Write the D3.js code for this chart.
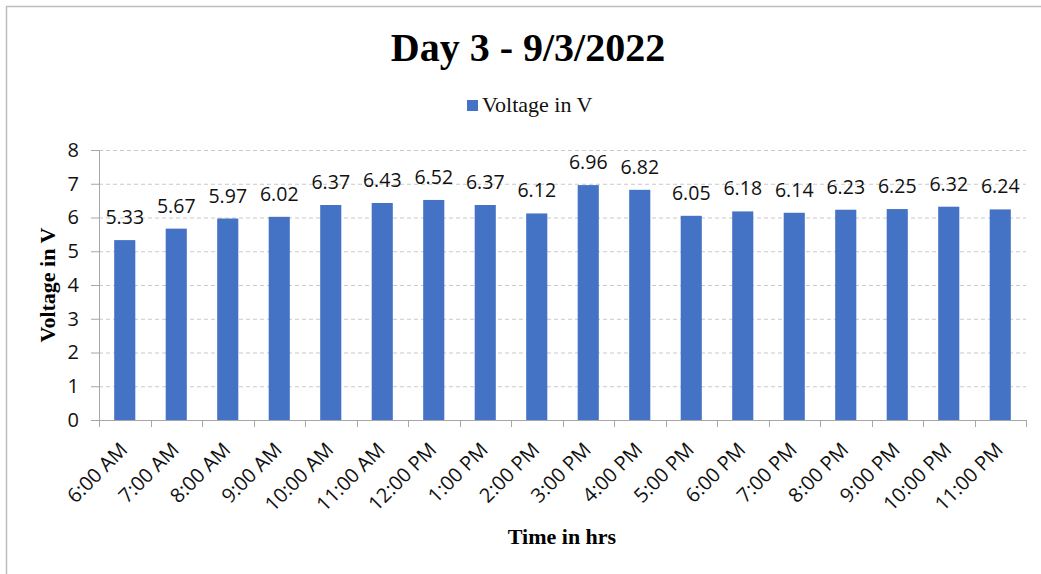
<!DOCTYPE html>
<html><head><meta charset="utf-8">
<script src="https://cdn.jsdelivr.net/npm/d3@7"></script>
<style>body{margin:0;background:#fff}svg{display:block}</style>
</head><body>
<svg id="chart" width="1041" height="574"></svg>
<script>
const categories = ["6:00 AM","7:00 AM","8:00 AM","9:00 AM","10:00 AM","11:00 AM","12:00 PM","1:00 PM","2:00 PM","3:00 PM","4:00 PM","5:00 PM","6:00 PM","7:00 PM","8:00 PM","9:00 PM","10:00 PM","11:00 PM"];
const voltage = [5.33,5.67,5.97,6.02,6.37,6.43,6.52,6.37,6.12,6.96,6.82,6.05,6.18,6.14,6.23,6.25,6.32,6.24];
const yTicks = [0,1,2,3,4,5,6,7,8];
const seriesName = "Voltage in V";
const titleText = "Day 3 - 9/3/2022";
const xTitle = "Time in hrs";
const yTitle = "Voltage in V";

const svg = d3.select("#chart");
const W = 1041, H = 574;
const L = 99, R = 1026, T = 150, B = 420;
const blue = "#4472C4";
const sans = "'Open Sans', 'Liberation Sans', sans-serif";
const serif = "'Liberation Serif', 'Times New Roman', serif";

svg.append("rect").attr("x",6.5).attr("y",6.5).attr("width",W+10).attr("height",H+10)
  .attr("fill","#fff").attr("stroke","#bdbdbd").attr("stroke-width",1.5);

const x = d3.scaleBand().domain(categories).range([L,R]).paddingInner(0.59).paddingOuter(0.295);
const xb = d3.scaleBand().domain(categories).range([L,R]);
const y = d3.scaleLinear().domain([0,8]).range([B,T]);

// grid
svg.append("g").selectAll("line").data(yTicks.filter(d=>d>0)).join("line")
  .attr("x1",L).attr("x2",R).attr("y1",d=>y(d)+0.5).attr("y2",d=>y(d)+0.5)
  .attr("stroke","#c9c9c9").attr("stroke-width",1).attr("stroke-dasharray","4,3");

// bars
svg.append("g").selectAll("rect").data(voltage).join("rect")
  .attr("x",(d,i)=>x(categories[i])).attr("width",x.bandwidth())
  .attr("y",d=>y(d)).attr("height",d=>B-y(d)).attr("fill",blue);

// data labels
svg.append("g").selectAll("text").data(voltage).join("text")
  .attr("x",(d,i)=>x(categories[i])+x.bandwidth()/2).attr("y",d=>y(d)-16)
  .attr("text-anchor","middle").attr("font-family",sans).attr("font-size",19.5).attr("fill","#111")
  .text(d=>d.toFixed(2));

// y axis
const ya = svg.append("g").attr("transform",`translate(${L},0)`)
  .call(d3.axisLeft(y).tickValues(yTicks).tickSize(8).tickPadding(12).tickFormat(d3.format("d")));
ya.select(".domain").attr("stroke","#a6a6a6").attr("d",`M-8,${T+0.5}H0.5V${B+0.5}`);
ya.selectAll(".tick line").attr("stroke","#a6a6a6");
ya.selectAll(".tick text").attr("font-family",sans).attr("font-size",20).attr("fill","#111");

// x axis
const xa = svg.append("g").attr("transform",`translate(0,${B})`)
  .call(d3.axisBottom(xb).tickSize(0).tickFormat(""));
xa.select(".domain").attr("stroke","#a6a6a6").attr("d",`M${L},0.5H${R}`);
const bounds = [L].concat(categories.map(c=>xb(c)+xb.bandwidth()));
svg.append("g").selectAll("line").data(bounds).join("line")
  .attr("x1",d=>Math.round(d)+0.5).attr("x2",d=>Math.round(d)+0.5).attr("y1",B).attr("y2",B+7)
  .attr("stroke","#a6a6a6");
svg.append("g").selectAll("text").data(categories).join("text")
  .attr("transform",c=>`translate(${xb(c)+xb.bandwidth()/2+4},${B+31}) rotate(-45)`)
  .attr("text-anchor","end").attr("font-family",sans).attr("font-size",20).attr("fill","#111")
  .text(c=>c);

// titles
svg.append("text").attr("x",528).attr("y",61).attr("text-anchor","middle")
  .attr("font-family",serif).attr("font-weight","bold").attr("font-size",40).attr("fill","#000").text(titleText);
svg.append("text").attr("x",562).attr("y",544).attr("text-anchor","middle")
  .attr("font-family",serif).attr("font-weight","bold").attr("font-size",22).attr("fill","#000").text(xTitle);
svg.append("text").attr("transform",`translate(55,${(T+B)/2}) rotate(-90)`).attr("text-anchor","middle")
  .attr("font-family",serif).attr("font-weight","bold").attr("font-size",22).attr("fill","#000").text(yTitle);

// legend
const lg = svg.append("g");
lg.append("rect").attr("x",467).attr("y",100).attr("width",11).attr("height",11).attr("fill",blue);
lg.append("text").attr("x",482).attr("y",112).attr("font-family",serif).attr("font-size",22).attr("fill","#111").text(seriesName);
</script>
</body></html>
